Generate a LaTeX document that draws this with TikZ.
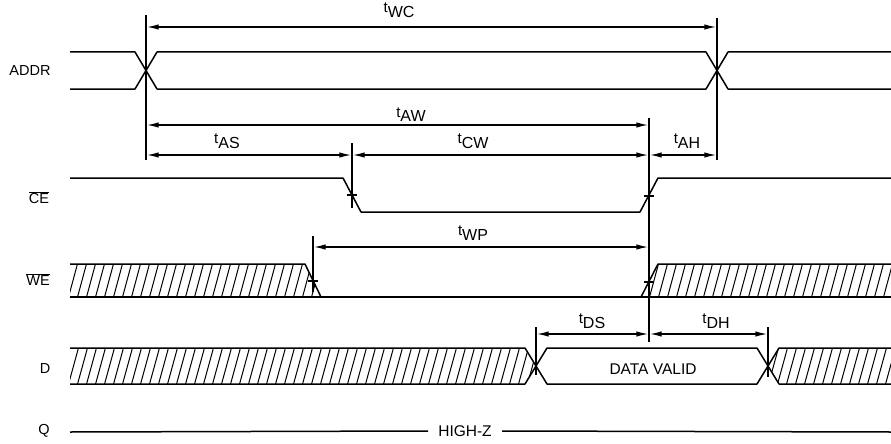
\documentclass[tikz,border=0pt]{standalone}
\usepackage{fontspec}
\setmainfont{Liberation Sans}
\usetikzlibrary{arrows.meta}
\newcommand\tsub[1]{{\fontsize{15}{16}\selectfont t}\raisebox{-5pt}{#1}}
\tikzset{
  sig/.style={line width=1.5pt, line join=round},
  hatch/.style={line width=1pt},
  vref/.style={line width=1.4pt},
  dim/.style={{Latex[length=12pt,width=5.5pt]}-{Latex[length=12pt,width=5.5pt]}, line width=1.4pt, shorten <=0.7pt, shorten >=0.7pt},
  lbl/.style={inner sep=0pt, font=\fontsize{14.5}{16}\selectfont},
  blbl/.style={inner sep=0pt, font=\fontsize{15.5}{16}\selectfont},
  tlbl/.style={inner sep=0pt, anchor=base, font=\fontsize{16}{16}\selectfont},
}
\begin{document}
\begin{tikzpicture}[x=1pt,y=-1pt]
\useasboundingbox (0,0) rectangle (891,444);

% signal names
\node[lbl] (nAddr) at (30,70.5) {ADDR};
\node[lbl] (nCE) at (39,198) {$\overline{\hbox{CE}}$};
\node[lbl] (nWE) at (38,280) {$\overline{\hbox{WE}}$};
\node[lbl] (nD) at (45,369) {D};
\node[lbl] (nQ) at (44,431) {Q};

% ADDR bus
\draw[sig] (70,52) -- (135,52) -- (157,89) -- (706,89) -- (728,52) -- (891,52);
\draw[sig] (70,89) -- (135,89) -- (157,52) -- (706,52) -- (728,89) -- (891,89);

% CE
\draw[sig] (70,178) -- (343,178) -- (361,212) -- (640,212) -- (658,178) -- (891,178);

% WE
\begin{scope}
  \clip (70,264) -- (305,264) -- (321,297) -- (70,297) -- cycle;
  \foreach \x in {50,59,...,330} \draw[hatch] (\x,299) -- ++(10,-37);
\end{scope}
\begin{scope}
  \clip (641,297) -- (658,264) -- (891,264) -- (891,297) -- cycle;
  \foreach \x in {622,631,...,900} \draw[hatch] (\x,299) -- ++(10,-37);
\end{scope}
\draw[sig] (70,264) -- (305,264) -- (321,297);
\draw[sig] (70,297) -- (891,297);
\draw[sig] (641,297) -- (658,264) -- (891,264);

% D
\begin{scope}
  \clip (70,348) -- (525,348) -- (536,366) -- (525,384) -- (70,384) -- cycle;
  \foreach \x in {50,59,...,545} \draw[hatch] (\x,386) -- ++(11,-40);
\end{scope}
\begin{scope}
  \clip (779,348) -- (891,348) -- (891,384) -- (779,384) -- (768,366) -- cycle;
  \foreach \x in {750,759,...,900} \draw[hatch] (\x,386) -- ++(11,-40);
\end{scope}
\draw[sig] (70,348) -- (525,348) -- (547,384) -- (757,384) -- (779,348) -- (891,348);
\draw[sig] (70,384) -- (525,384) -- (547,348) -- (757,348) -- (779,384) -- (891,384);
\node[blbl] (dv) at (653,369) {DATA VALID};

% Q
\node[blbl] (hz) at (465,431) {HIGH-Z};
\coordinate (qL) at (70,432);
\coordinate (qR) at (891,432);
\draw[sig] (qL) -- (hz.west -| 428,0) ;
\draw[sig] (hz.east -| 502,0) -- (qR);

% reference verticals
\coordinate (v1t) at (146,15);  \coordinate (v1b) at (146,160);
\coordinate (v2t) at (717,18);  \coordinate (v2b) at (717,160);
\coordinate (v3t) at (352,143); \coordinate (v3b) at (352,208);
\coordinate (v4t) at (649,118); \coordinate (v4b) at (649,342);
\coordinate (v5t) at (313,236); \coordinate (v5b) at (313,292);
\coordinate (v6t) at (536,327); \coordinate (v6b) at (536,375);
\coordinate (v7t) at (768,327); \coordinate (v7b) at (768,377);
\foreach \v in {1,...,7} \draw[vref] (v\v t) -- (v\v b);

% crossing ticks
\draw[vref] (347,195) -- (357,195);
\draw[vref] (644,196) -- (654,196);
\draw[vref] (308,281) -- (318,281);
\draw[vref] (644,282) -- (654,282);

% dimension arrows
\draw[dim] (v1t |- 0,27) coordinate (wcL) -- (v2t |- 0,27) coordinate (wcR);
\draw[dim] (v1t |- 0,125) coordinate (awL) -- (v4t |- 0,125) coordinate (awR);
\draw[dim] (v1t |- 0,155) coordinate (asL) -- (v3t |- 0,155) coordinate (asR);
\draw[dim] (v3t |- 0,155) coordinate (cwL) -- (v4t |- 0,155) coordinate (cwR);
\draw[dim] (v4t |- 0,155) coordinate (ahL) -- (v2t |- 0,155) coordinate (ahR);
\draw[dim] (v5t |- 0,247) coordinate (wpL) -- (v4t |- 0,247) coordinate (wpR);
\draw[dim] (v6t |- 0,334) coordinate (dsL) -- (v4t |- 0,334) coordinate (dsR);
\draw[dim] (v4t |- 0,334) coordinate (dhL) -- (v7t |- 0,334) coordinate (dhR);

% timing labels
\node[tlbl] (lWC) at (399,13) {\tsub{WC}};
\node[tlbl] (lAW) at (411,117) {\tsub{AW}};
\node[tlbl] (lAS) at (227,143) {\tsub{AS}};
\node[tlbl] (lCW) at (473,143) {\tsub{CW}};
\node[tlbl] (lAH) at (687,143) {\tsub{AH}};
\node[tlbl] (lWP) at (473,235) {\tsub{WP}};
\node[tlbl] (lDS) at (592,323) {\tsub{DS}};
\node[tlbl] (lDH) at (716,323) {\tsub{DH}};
\end{tikzpicture}
\end{document}
